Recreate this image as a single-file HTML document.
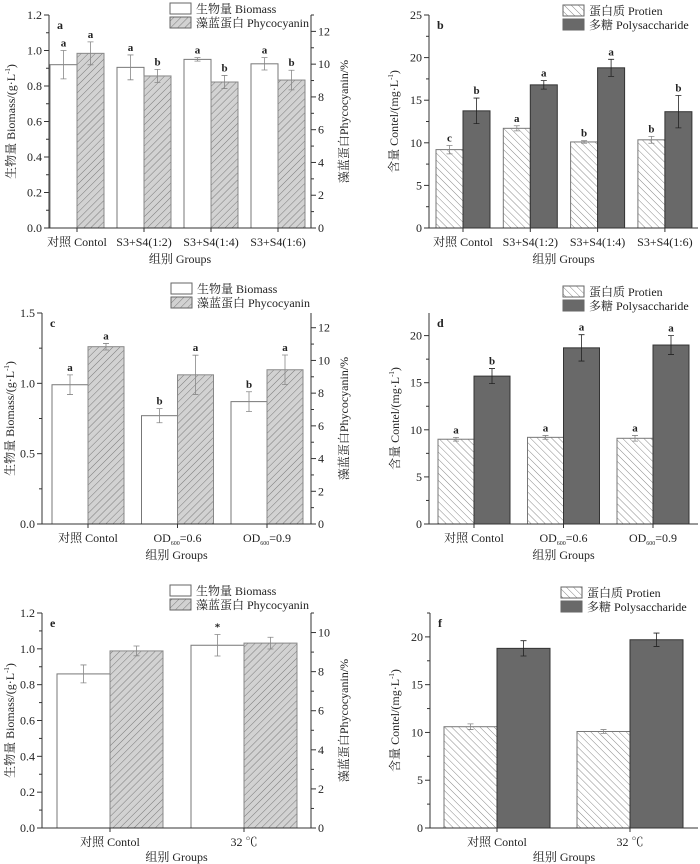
<!DOCTYPE html>
<html><head><meta charset="utf-8"><style>
html,body{margin:0;padding:0;background:#fff;}
svg{display:block;font-family:"Liberation Serif","Noto Serif CJK SC","Noto Sans CJK SC",serif;}
</style></head><body>
<svg id="fig" width="700" height="864" viewBox="0 0 700 864" xmlns="http://www.w3.org/2000/svg">
<defs>
<pattern id="hatchPhy" patternUnits="userSpaceOnUse" width="5" height="5" patternTransform="rotate(45)"><rect width="5" height="5" fill="#d2d2d2"/><line x1="0" y1="0" x2="0" y2="5" stroke="#7a7a7a" stroke-width="1"/></pattern>
<pattern id="hatchPro" patternUnits="userSpaceOnUse" width="5" height="5" patternTransform="rotate(-45)"><rect width="5" height="5" fill="#fff"/><line x1="0" y1="0" x2="0" y2="5" stroke="#8a8a8a" stroke-width="1"/></pattern>
</defs>
</svg>
<script>
// ---- data ----
const aCats = ["对照 Contol","S3+S4(1:2)","S3+S4(1:4)","S3+S4(1:6)"];
const aBiomass = [0.92,0.905,0.95,0.925];
const aBiomassErr = [0.08,0.07,0.01,0.035];
const aPhyco = [10.66,9.28,8.91,9.03];
const aPhycoErr = [0.7,0.4,0.4,0.6];
const aBioLetters = ["a","a","a","a"];
const aPhyLetters = ["a","b","b","b"];

const bCats = ["对照 Contol","S3+S4(1:2)","S3+S4(1:4)","S3+S4(1:6)"];
const bProtein = [9.2,11.7,10.1,10.35];
const bProteinErr = [0.5,0.3,0.15,0.4];
const bPoly = [13.75,16.8,18.8,13.65];
const bPolyErr = [1.5,0.5,1.0,1.9];
const bProLetters = ["c","a","b","b"];
const bPolyLetters = ["b","a","a","b"];

const cCats = ["对照 Contol","OD|600|=0.6","OD|600|=0.9"];
const cBiomass = [0.99,0.77,0.87];
const cBiomassErr = [0.07,0.05,0.07];
const cPhyco = [10.84,9.12,9.43];
const cPhycoErr = [0.2,1.2,0.9];
const cBioLetters = ["a","b","b"];
const cPhyLetters = ["a","a","a"];

const dCats = ["对照 Contol","OD|600|=0.6","OD|600|=0.9"];
const dProtein = [9.0,9.2,9.1];
const dProteinErr = [0.2,0.2,0.3];
const dPoly = [15.7,18.7,19.0];
const dPolyErr = [0.8,1.4,1.0];
const dProLetters = ["a","a","a"];
const dPolyLetters = ["b","a","a"];

const eCats = ["对照 Contol","32 ℃"];
const eBiomass = [0.86,1.02];
const eBiomassErr = [0.05,0.06];
const ePhyco = [9.06,9.46];
const ePhycoErr = [0.25,0.3];
const eBioLetters = ["","*"];
const ePhyLetters = ["",""];

const fCats = ["对照 Contol","32 ℃"];
const fProtein = [10.6,10.1];
const fProteinErr = [0.3,0.2];
const fPoly = [18.8,19.7];
const fPolyErr = [0.8,0.7];
const fProLetters = ["",""];
const fPolyLetters = ["",""];

const NS = "http://www.w3.org/2000/svg";
const svg = document.getElementById("fig");
function mk(tag, attrs, parent){
  const el = document.createElementNS(NS, tag);
  for (const k in attrs) el.setAttribute(k, attrs[k]);
  (parent||svg).appendChild(el);
  return el;
}
function fmt(v, step){ return step < 1 ? v.toFixed(1) : String(Math.round(v)); }

function panel(p){
  const g = mk("g", {});
  
  
  const yL = v => p.B - v / p.yMax * (p.B - p.T);
  const yR = v => p.B - v / p.rMax * (p.B - p.T);
  const cx = i => p.L + p.off + i * p.sp;
  const ys2 = p.dual ? yR : yL;

  p.cats.forEach((c, i) => {
    const v1 = p.s1[i], v2 = p.s2[i];
    const b1 = mk("rect", {x: cx(i) - p.bw, y: yL(v1), width: p.bw, height: p.B - yL(v1),
      fill: p.dual ? "#fff" : "url(#hatchPro)", stroke: "#777", "stroke-width": 1}, g);
    
    
    const b2 = mk("rect", {x: cx(i), y: ys2(v2), width: p.bw, height: p.B - ys2(v2),
      fill: p.dual ? "url(#hatchPhy)" : "#696969", stroke: p.dual ? "#888" : "#333", "stroke-width": 1}, g);
    
    
    [[cx(i) - p.bw/2, v1, p.e1[i], yL, p.l1[i]], [cx(i) + p.bw/2, v2, p.e2[i], ys2, p.l2[i]]].forEach((q, k) => {
      const [x, v, e, sc, lt] = q;
      const eg = mk("path", {d: `M${x},${sc(v+e)}V${sc(v-e)}M${x-3},${sc(v+e)}H${x+3}M${x-3},${sc(v-e)}H${x+3}`,
        stroke: (k===1 && !p.dual) ? "#222" : "#888", "stroke-width": 0.8, fill: "none"}, g);
      
      
      if (lt) {
        const t = mk("text", {x: x, y: sc(v+e) - 4, "text-anchor": "middle", "font-size": 11, "font-weight": "bold", fill: "#222"}, g);
        t.textContent = lt;
        
        
      }
    });
    mk("line", {x1: cx(i), x2: cx(i), y1: p.B, y2: p.B + 4, stroke: "#333"}, g);
    const tl = mk("text", {x: cx(i), y: p.B + 18, "text-anchor": "middle", "font-size": 12, fill: "#222"}, g);
    const parts = c.split("|");
    if (parts.length === 3) {
      const s1 = mk("tspan", {}, tl); s1.textContent = parts[0];
      const s2 = mk("tspan", {"font-size": 6, dy: 3}, tl); s2.textContent = parts[1];
      const s3 = mk("tspan", {dy: -3}, tl); s3.textContent = parts[2];
    } else tl.textContent = c;
    
    
  });

  const ax = mk("path", {d: `M${p.L},${p.T}V${p.B}H${p.R}` + (p.dual ? `V${p.T}` : ""), stroke: "#333", "stroke-width": 1, fill: "none"}, g);
  
  
  for (let v = 0; v <= p.yMax + 1e-9; v += p.yStep/2) {
    const major = Math.abs(v / p.yStep - Math.round(v / p.yStep)) < 1e-6;
    mk("line", {x1: p.L - (major?5:3), x2: p.L, y1: yL(v), y2: yL(v), stroke: "#333"}, g);
    if (major) {
      const t = mk("text", {x: p.L - 7, y: yL(v) + 4, "text-anchor": "end", "font-size": 12, fill: "#222"}, g);
      t.textContent = fmt(v, p.yStep);
      
      
    }
  }
  if (p.dual) {
    for (let v = 0; v <= p.rMax + 1e-9; v += 1) {
      const major = v % 2 === 0;
      mk("line", {x1: p.R, x2: p.R + (major?5:3), y1: yR(v), y2: yR(v), stroke: "#333"}, g);
      if (major) {
        const t = mk("text", {x: p.R + 7, y: yR(v) + 4, "font-size": 12, fill: "#222"}, g);
        t.textContent = String(v);
        
        
      }
    }
    const rt = mk("text", {transform: `translate(${p.R+37},${(p.T+p.B)/2}) rotate(-90)`, "text-anchor": "middle", "font-size": 12, fill: "#222"}, g);
    rt.textContent = "藻蓝蛋白Phycocyanin/%";
    
    
  }
  const lt = mk("text", {transform: `translate(${p.ytx},${(p.T+p.B)/2}) rotate(-90)`, "text-anchor": "middle", "font-size": 12, fill: "#222"}, g);
  lt.textContent = p.dual ? "生物量 Biomass/(g·L" : "含量 Contel/(mg·L";
  const sup = mk("tspan", {"font-size": 7, dy: -5}, lt); sup.textContent = "-1";
  const cl = mk("tspan", {dy: 5}, lt); cl.textContent = ")";
  
  
  const xt = mk("text", {x: (p.L + p.R)/2, y: Math.min(p.B + 35, 861), "text-anchor": "middle", "font-size": 12, fill: "#222"}, g);
  xt.textContent = "组别 Groups";
  
  
  const pl = mk("text", {x: p.L + 8, y: p.T + 14, "font-size": 12, "font-weight": "bold", fill: "#222"}, g);
  pl.textContent = p.id;
  
  

  const names = p.dual ? ["生物量 Biomass","藻蓝蛋白 Phycocyanin"] : ["蛋白质 Protien","多糖 Polysaccharide"];
  const fills = p.dual ? ["#fff","url(#hatchPhy)"] : ["url(#hatchPro)","#696969"];
  names.forEach((nm, k) => {
    const y = p.legY + k * 14;
    const r = mk("rect", {x: p.legX, y: y, width: 21, height: 11, fill: fills[k], stroke: "#666"}, g);
    
    
    const t = mk("text", {x: p.legX + 26, y: y + 10, "font-size": 12, fill: "#222"}, g);
    t.textContent = nm;
    
    
  });
}

panel({id:"a", dual:true, L:49, R:311, T:15, B:228, yMax:1.2, yStep:0.2, rMax:13, off:28, sp:67, bw:27, ytx:15,
  cats:aCats, s1:aBiomass, e1:aBiomassErr, s2:aPhyco, e2:aPhycoErr, l1:aBioLetters, l2:aPhyLetters, n1:"biomass", n2:"phycocyanin", legX:170, legY:3});
panel({id:"b", dual:false, L:429, R:698, T:15, B:228, yMax:25, yStep:5, off:34, sp:67.3, bw:27, ytx:398,
  cats:bCats, s1:bProtein, e1:bProteinErr, s2:bPoly, e2:bPolyErr, l1:bProLetters, l2:bPolyLetters, n1:"protein", n2:"polysaccharide", legX:563, legY:5});
panel({id:"c", dual:true, L:42, R:311, T:313, B:524, yMax:1.5, yStep:0.5, rMax:12.9, off:46, sp:89.5, bw:36, ytx:14,
  cats:cCats, s1:cBiomass, e1:cBiomassErr, s2:cPhyco, e2:cPhycoErr, l1:cBioLetters, l2:cPhyLetters, n1:"biomass", n2:"phycocyanin", legX:171, legY:283});
panel({id:"d", dual:false, L:429, R:698, T:313, B:524, yMax:22.4, yStep:5, off:45, sp:89.5, bw:36, ytx:399,
  cats:dCats, s1:dProtein, e1:dProteinErr, s2:dPoly, e2:dPolyErr, l1:dProLetters, l2:dPolyLetters, n1:"protein", n2:"polysaccharide", legX:563, legY:286});
panel({id:"e", dual:true, L:42, R:311, T:613, B:828, yMax:1.2, yStep:0.2, rMax:11, off:68, sp:134, bw:53, ytx:14,
  cats:eCats, s1:eBiomass, e1:eBiomassErr, s2:ePhyco, e2:ePhycoErr, l1:eBioLetters, l2:ePhyLetters, n1:"biomass", n2:"phycocyanin", legX:170, legY:585});
panel({id:"f", dual:false, L:430, R:698, T:613, B:828, yMax:22.5, yStep:5, off:67, sp:133, bw:53, ytx:399,
  cats:fCats, s1:fProtein, e1:fProteinErr, s2:fPoly, e2:fPolyErr, l1:fProLetters, l2:fPolyLetters, n1:"protein", n2:"polysaccharide", legX:561, legY:587});
</script>
</body></html>
